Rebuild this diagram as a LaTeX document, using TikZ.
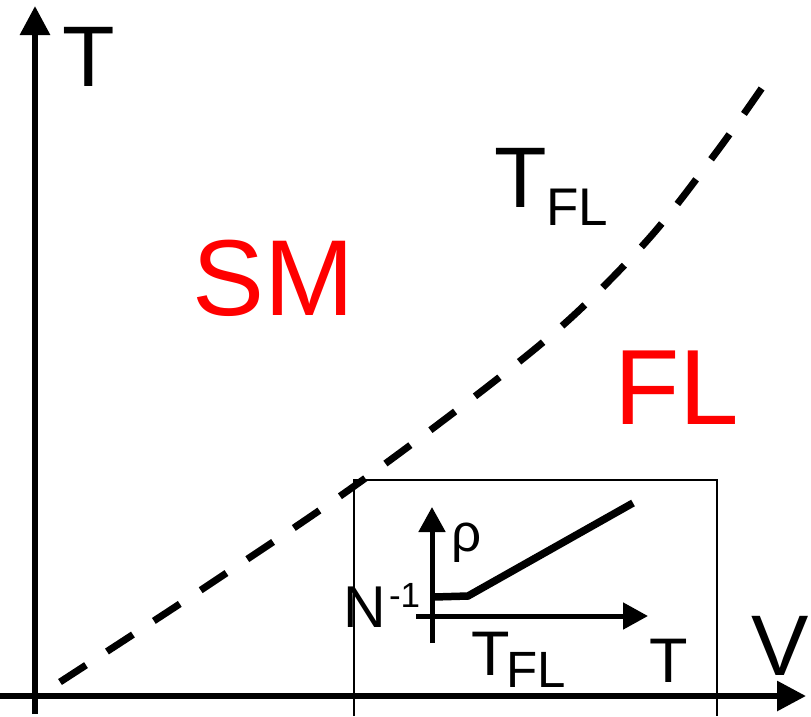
\documentclass[tikz,border=0pt]{standalone}
\usepackage{fontspec}
\setmainfont{Liberation Sans}
\usetikzlibrary{arrows.meta}
\newcommand{\myfs}[1]{\fontsize{#1}{#1}\selectfont}
\definecolor{labred}{RGB}{255,0,0}
\tikzset{
  lab/.style={inner sep=0pt, outer sep=0pt, anchor=base west},
  mainaxis/.style={line width=6pt, -{Triangle[length=29pt,width=29pt]}},
  insetaxis/.style={line width=5pt, -{Triangle[length=25pt,width=26pt]}},
  phase/.style={line width=7pt, dash pattern=on 31pt off 25pt},
  box/.style={line width=1.8pt},
  curveline/.style={line width=7.5pt, line join=miter}
}
\begin{document}
\begin{tikzpicture}[x=1pt,y=-1pt]
\useasboundingbox (0,0) rectangle (811,716);
% main axes
\coordinate (yb) at (35,714);
\coordinate (yt) at (35,6);
\coordinate (xl) at (0,696);
\coordinate (xr) at (806,696);
\draw[mainaxis] (yb) -- (yt);
\draw[mainaxis] (xl) -- (xr);
% phase boundary
\draw[phase] plot[smooth, tension=0.55] coordinates {(60,682) (213,582) (353,487) (487,387) (573,316) (652,235) (718,150) (764,85)};
% inset box
\coordinate (b1) at (354,716);
\coordinate (b2) at (354,480);
\coordinate (b3) at (717,480);
\coordinate (b4) at (717,716);
\draw[box] (b1) -- (b2) -- (b3) -- (b4);
% inset axes
\coordinate (iyb) at (432,643);
\coordinate (iyt) at (432,507);
\coordinate (ixl) at (416,616);
\coordinate (ixr) at (648,616);
\draw[insetaxis] (iyb) -- (iyt);
\draw[insetaxis] (ixl) -- (ixr);
% resistivity curve
\coordinate (c0) at (434,597);
\coordinate (c1) at (468,596);
\coordinate (c2) at (633,503);
\draw[curveline] (c0) -- (c1) -- (c2);
% labels
\node[lab] (tlab) at (62,86) {\myfs{86}T};
\node[lab] (tfl) at (494,207) {\myfs{86}T};
\node[lab] (tflsub) at (546,225) {\myfs{53}FL};
\node[lab, text=labred] (sm) at (192,315) {\myfs{108}SM};
\node[lab, text=labred] (fl) at (614,424) {\myfs{107}FL};
\node[lab] (rho) at (451,551) {\myfs{53}ρ};
\node[lab] (nlab) at (343,627) {\myfs{59}N};
\node[lab] (nsup) at (389,607) {\myfs{35}-1};
\node[lab] (itfl) at (471,675) {\myfs{63}T};
\node[lab] (itflsub) at (506,687) {\myfs{51}FL};
\node[lab] (itlab) at (649,682) {\myfs{63}T};
\node[lab] (vlab) at (751,675) {\myfs{86}V};
\end{tikzpicture}
\end{document}
